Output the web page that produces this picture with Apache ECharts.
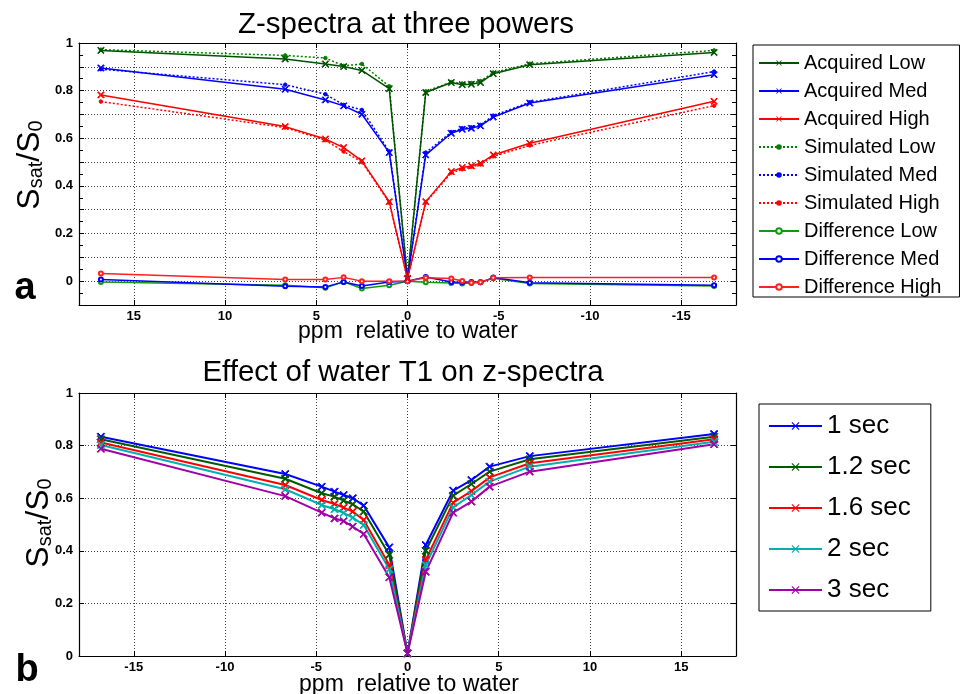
<!DOCTYPE html>
<html><head><meta charset="utf-8">
<script src="https://cdn.jsdelivr.net/npm/echarts@6/dist/echarts.min.js"></script>
<style>html,body{margin:0;padding:0;background:#fff}#c{width:960px;height:694px}</style>
</head><body><div id="c"></div>
<script>
// ---------- data: panel a ----------
const ppmTop = [16.8, 6.7, 4.5, 3.5, 2.5, 1.0, 0, -1.0, -2.4, -3.0, -3.5, -4.0, -4.7, -6.7, -16.8];
const acqLow  = [0.969, 0.933, 0.912, 0.901, 0.885, 0.808, 0.01, 0.792, 0.834, 0.825, 0.827, 0.834, 0.871, 0.909, 0.960];
const acqMed  = [0.895, 0.806, 0.761, 0.736, 0.701, 0.540, 0.01, 0.530, 0.621, 0.638, 0.642, 0.652, 0.689, 0.748, 0.867];
const acqHigh = [0.782, 0.649, 0.597, 0.561, 0.505, 0.334, 0.01, 0.334, 0.460, 0.477, 0.484, 0.495, 0.530, 0.579, 0.755];
const simLow  = [0.972, 0.948, 0.937, 0.904, 0.912, 0.818, 0.01, 0.797, 0.836, 0.830, 0.832, 0.840, 0.876, 0.913, 0.969];
const simMed  = [0.890, 0.825, 0.785, 0.740, 0.719, 0.545, 0.01, 0.540, 0.626, 0.642, 0.646, 0.656, 0.695, 0.751, 0.880];
const simHigh = [0.754, 0.645, 0.592, 0.544, 0.500, 0.330, 0.01, 0.330, 0.455, 0.470, 0.480, 0.490, 0.524, 0.570, 0.737];
const diffLow  = [-0.003, -0.017, -0.028, -0.003, -0.031, -0.017, 0, -0.005, -0.008, -0.010, -0.008, -0.005, 0.012, -0.010, -0.020];
const diffMed  = [0.007, -0.021, -0.024, -0.003, -0.020, -0.003, 0, 0.018, -0.003, -0.005, -0.003, -0.005, 0.015, -0.007, -0.017];
const diffHigh = [0.032, 0.007, 0.007, 0.016, 0.000, 0.000, 0, 0.014, 0.011, 0.001, -0.007, -0.004, 0.014, 0.015, 0.015];

// ---------- data: panel b ----------
const ppmBottom = [-16.8, -6.7, -4.7, -4.0, -3.5, -3.0, -2.4, -1.0, 0, 1.0, 2.5, 3.5, 4.5, 6.7, 16.8];
const t1_1s  = [0.834, 0.692, 0.644, 0.625, 0.612, 0.600, 0.572, 0.413, 0.01, 0.422, 0.629, 0.669, 0.720, 0.760, 0.844];
const t1_12s = [0.824, 0.674, 0.619, 0.606, 0.591, 0.577, 0.549, 0.385, 0.01, 0.400, 0.610, 0.654, 0.701, 0.748, 0.834];
const t1_16s = [0.812, 0.650, 0.593, 0.578, 0.564, 0.549, 0.517, 0.346, 0.01, 0.365, 0.583, 0.627, 0.679, 0.733, 0.824];
const t1_2s  = [0.802, 0.634, 0.574, 0.558, 0.544, 0.526, 0.498, 0.330, 0.01, 0.346, 0.565, 0.612, 0.663, 0.720, 0.815];
const t1_3s  = [0.788, 0.608, 0.545, 0.523, 0.513, 0.492, 0.464, 0.299, 0.01, 0.320, 0.545, 0.587, 0.644, 0.701, 0.805];

// ---------- tick labels ----------
const xTicks = [-15, -10, -5, 0, 5, 10, 15];
const yTicksTop = [0, 0.2, 0.4, 0.6, 0.8, 1];

const FONT = '"Liberation Sans", Arial, Helvetica, sans-serif';
const CROSS = 'path://M0,1L1,0L5,4L9,0L10,1L6,5L10,9L9,10L5,6L1,10L0,9L4,5Z';
const GRIDLINE = {show: true, lineStyle: {color: '#444', width: 1, type: [1, 2]}};

function pairs(xs, ys) { return xs.map((x, i) => [x, ys[i]]); }

function ser(name, xs, ys, color, kind, g) {
  const s = {
    name, type: 'line', xAxisIndex: g * 2, yAxisIndex: g * 2,
    data: pairs(xs, ys), animation: false, showSymbol: true,
    itemStyle: {color: color, borderColor: color},
    lineStyle: {color: color, width: 1.5}
  };
  if (kind === 'acq') { s.symbol = CROSS; s.symbolSize = 6.5; s.z = 4; }
  if (kind === 'sim') { s.symbol = 'circle'; s.symbolSize = 3.5; s.lineStyle.type = [2, 2]; s.z = 3; }
  if (kind === 'diff') { s.symbol = 'emptyCircle'; s.symbolSize = 4; s.itemStyle.borderWidth = 1; s.z = 3; }
  if (kind === 't1') { s.symbol = CROSS; s.symbolSize = 7.5; s.lineStyle.width = 2; }
  return s;
}

const GL = '#005200', GS = '#008000', GD = '#119911';
const series = [
  ser('Acquired Low', ppmTop, acqLow, GL, 'acq', 0),
  ser('Acquired Med', ppmTop, acqMed, '#0000ff', 'acq', 0),
  ser('Acquired High', ppmTop, acqHigh, '#ff0000', 'acq', 0),
  ser('Simulated Low', ppmTop, simLow, GS, 'sim', 0),
  ser('Simulated Med', ppmTop, simMed, '#0000ff', 'sim', 0),
  ser('Simulated High', ppmTop, simHigh, '#ff0000', 'sim', 0),
  ser('Difference Low', ppmTop, diffLow, GD, 'diff', 0),
  ser('Difference Med', ppmTop, diffMed, '#0000ff', 'diff', 0),
  ser('Difference High', ppmTop, diffHigh, '#ff2020', 'diff', 0),
  ser('1 sec', ppmBottom, t1_1s, '#0000ff', 't1', 1),
  ser('1.2 sec', ppmBottom, t1_12s, '#005a00', 't1', 1),
  ser('1.6 sec', ppmBottom, t1_16s, '#ff0000', 't1', 1),
  ser('2 sec', ppmBottom, t1_2s, '#00b0b0', 't1', 1),
  ser('3 sec', ppmBottom, t1_3s, '#a000a8', 't1', 1)
];

const labelStyle = {color: '#000', fontFamily: FONT, fontWeight: 'bold', fontSize: 13};
const axLine = {show: true, onZero: false, lineStyle: {color: '#000', width: 1.2}};

function xAx(g, pos, inverse, showLabel) {
  return {
    type: 'value', gridIndex: g, position: pos, min: -18, max: 18, inverse: inverse,
    axisLine: axLine,
    axisTick: {show: true, inside: true, length: 5, customValues: xTicks, lineStyle: {color: '#000'}},
    axisLabel: {show: showLabel, customValues: xTicks, margin: 5, ...labelStyle},
    splitLine: showLabel ? GRIDLINE : {show: false}
  };
}
function yAxTop(pos, showLabel) {
  return {
    type: 'value', gridIndex: 0, position: pos, min: -0.1, max: 1, interval: 0.1,
    axisLine: axLine,
    axisTick: {show: true, inside: true, length: 5, lineStyle: {color: '#000'}},
    minorTick: {show: true, splitNumber: 2, length: 4, lineStyle: {color: '#000'}},
    axisLabel: {show: showLabel, margin: 6, ...labelStyle, formatter: function (v) {
      const r = Math.round(v * 10);
      const hit = yTicksTop.find(t => Math.round(t * 10) === r);
      return hit === undefined ? '' : String(hit);
    }},
    splitLine: showLabel ? GRIDLINE : {show: false}
  };
}
function yAxBot(pos, showLabel) {
  return {
    type: 'value', gridIndex: 1, position: pos, min: 0, max: 1, interval: 0.2,
    axisLine: axLine,
    axisTick: {show: true, inside: true, length: 5, lineStyle: {color: '#000'}},
    axisLabel: {show: showLabel, margin: 6, ...labelStyle, formatter: v => String(Math.round(v * 10) / 10)},
    splitLine: showLabel ? GRIDLINE : {show: false}
  };
}

const yNameRich = {
  S: {fontSize: 32, fontFamily: FONT, color: '#000', lineHeight: 36, verticalAlign: 'bottom'},
  sub: {fontSize: 20, fontFamily: FONT, color: '#000', lineHeight: 14, verticalAlign: 'bottom'}
};
function txt(text, x, y, size, weight) {
  return {type: 'text', x: x, y: y, silent: true,
    style: {text: text, fontSize: size, fontFamily: FONT, fontWeight: weight || 'normal', fill: '#000', align: 'center', verticalAlign: 'middle'}};
}

const option = {
  backgroundColor: '#fff',
  animation: false,
  grid: [
    {left: 79, right: 224, top: 43, bottom: 389},
    {left: 79, right: 224, top: 393, bottom: 38}
  ],
  xAxis: [xAx(0, 'bottom', true, true), xAx(0, 'top', true, false), xAx(1, 'bottom', false, true), xAx(1, 'top', false, false)],
  yAxis: [yAxTop('left', true), yAxTop('right', false), yAxBot('left', true), yAxBot('right', false)],
  legend: [
    {data: series.slice(0, 9).map(s => s.name), orient: 'vertical', left: 753, top: 45,
     itemWidth: 40, itemHeight: 7, itemGap: 8, padding: [8, 18, 0, 5], selectedMode: false,
     borderColor: '#000', borderWidth: 1, backgroundColor: '#fff',
     textStyle: {fontSize: 20, color: '#000', fontFamily: FONT}},
    {data: series.slice(9).map(s => s.name), orient: 'vertical', left: 759, top: 404,
     itemWidth: 53, itemHeight: 10, itemGap: 15, padding: [9, 20, 8, 9], selectedMode: false,
     borderColor: '#000', borderWidth: 1, backgroundColor: '#fff',
     textStyle: {fontSize: 26, color: '#000', fontFamily: FONT}}
  ],
  graphic: [
    txt('Z-spectra at three powers', 406, 25, 29.5),
    txt('Effect of water T1 on z-spectra', 403, 373, 29.5),
    txt('ppm  relative to water', 408, 332, 23),
    txt('ppm  relative to water', 409, 685, 23),
    txt('a', 25, 289, 38, 'bold'),
    txt('b', 27, 671, 38, 'bold'),
    {type: 'text', x: 28, y: 165, rotation: Math.PI / 2, silent: true,
     style: {text: '{S|S}{sub|sat}{S|/S}{sub|0}', rich: yNameRich, align: 'center', verticalAlign: 'middle', fill: '#000'}},
    {type: 'text', x: 37, y: 523, rotation: Math.PI / 2, silent: true,
     style: {text: '{S|S}{sub|sat}{S|/S}{sub|0}', rich: yNameRich, align: 'center', verticalAlign: 'middle', fill: '#000'}}
  ],
  series: series
};

const chart = echarts.init(document.getElementById('c'), null, {renderer: 'canvas'});
chart.setOption(option);
</script></body></html>
